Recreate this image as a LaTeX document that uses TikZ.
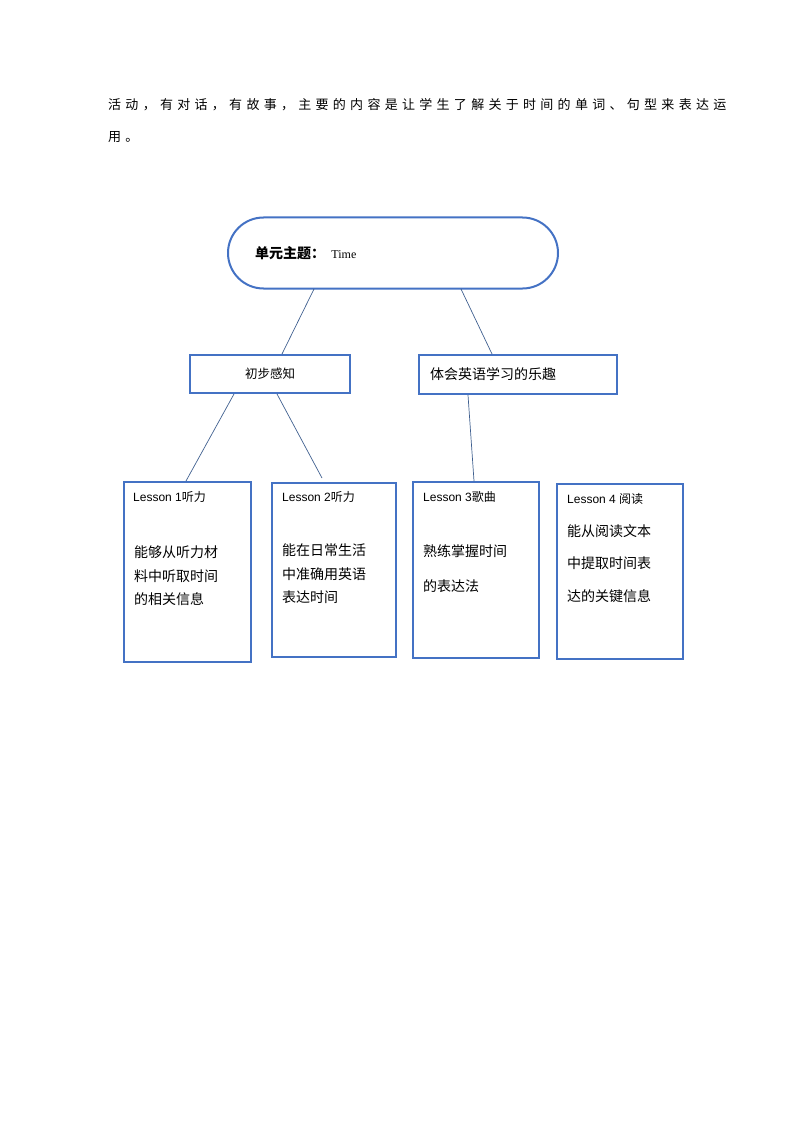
\documentclass[tikz,border=0pt]{standalone}
\usepackage{fontspec}
\setmainfont{Noto Sans CJK SC}
\newfontfamily\spreadfont[LetterSpace=33]{Noto Sans CJK SC}
\usetikzlibrary{positioning,shapes.misc}
\definecolor{boxblue}{HTML}{4472C4}
\definecolor{lineblue}{HTML}{3F5F8F}
\tikzset{
  box/.style={draw=boxblue, line width=2pt, anchor=north west, inner sep=0pt},
  link/.style={draw=lineblue, line width=0.7pt},
  body/.style={anchor=north west, align=left, font=\fontsize{14}{23.5}\selectfont, inner sep=0pt}
}
\begin{document}
\begin{tikzpicture}[x=1pt,y=-1pt]
\useasboundingbox (0,0) rectangle (794,1123);

\node [anchor=west, inner sep=0pt, font=\spreadfont\fontsize{13}{13}\selectfont] (intro1) at (108,105) {活动，有对话，有故事，主要的内容是让学生了解关于时间的单词、句型来表达运};
\node [anchor=west, inner sep=0pt, font=\spreadfont\fontsize{13}{13}\selectfont] (intro2) at (108,137) {用。};

\node [box, rounded rectangle, anchor=center, minimum width=330pt, minimum height=71pt] (theme) at (393,253) {};
\node [anchor=west, inner sep=0pt, font=\fontsize{14}{14}\selectfont] (themetext) at (255,253) {\textbf{单元主题：} \ {\fontspec{Liberation Serif}\fontsize{12}{12}\selectfont Time}};

\node [box, minimum width=160pt, minimum height=38pt] (perceive) at (189,354) {};
\node [inner sep=0pt, font=\fontsize{12.5}{12.5}\selectfont] at (perceive) {初步感知};
\node [box, minimum width=198pt, minimum height=39pt] (fun) at (418,354) {};
\node [anchor=west, inner sep=0pt, font=\fontsize{14}{14}\selectfont] at ([xshift=12pt]fun.west) {体会英语学习的乐趣};

\node [box, minimum width=127pt, minimum height=180pt] (lone) at (123,481) {};
\node [box, minimum width=124pt, minimum height=174pt] (ltwo) at (271,482) {};
\node [box, minimum width=126pt, minimum height=176pt] (lthree) at (412,481) {};
\node [box, minimum width=126pt, minimum height=175pt] (lfour) at (556,483) {};

\fontspec{Liberation Sans}
\node [anchor=west, inner sep=0pt, font=\fontsize{12}{12}\selectfont] at (133,497) {Lesson 1\fontspec{Noto Sans CJK SC}听力};
\node [anchor=west, inner sep=0pt, font=\fontsize{12}{12}\selectfont] at (282,497) {Lesson 2\fontspec{Noto Sans CJK SC}听力};
\node [anchor=west, inner sep=0pt, font=\fontsize{12}{12}\selectfont] at (423,497) {Lesson 3\fontspec{Noto Sans CJK SC}歌曲};
\node [anchor=west, inner sep=0pt, font=\fontsize{12}{12}\selectfont] at (567,499) {Lesson 4 \fontspec{Noto Sans CJK SC}阅读};

\fontspec{Noto Sans CJK SC}
\node [body] at (134,546) {能够从听力材\\料中听取时间\\的相关信息};
\node [body] at (282,544) {能在日常生活\\中准确用英语\\表达时间};
\node [body, font=\fontsize{14}{35}\selectfont] at (423,544) {熟练掌握时间\\的表达法};
\node [body, font=\fontsize{14}{32.5}\selectfont] at (567,524) {能从阅读文本\\中提取时间表\\达的关键信息};

% connectors
\coordinate (ta) at (314,289); \coordinate (tb) at (461,289);
\draw [link] (ta) -- (perceive.north -| 282,0);
\draw [link] (tb) -- (fun.north -| 492,0);
\draw [link] (perceive.south -| 234,0) -- (lone.north -| 186,0);
\draw [link] (perceive.south -| 277,0) -- (322,478);
\draw [link] (fun.south -| 468,0) -- (lthree.north -| 474,0);

\end{tikzpicture}
\end{document}
